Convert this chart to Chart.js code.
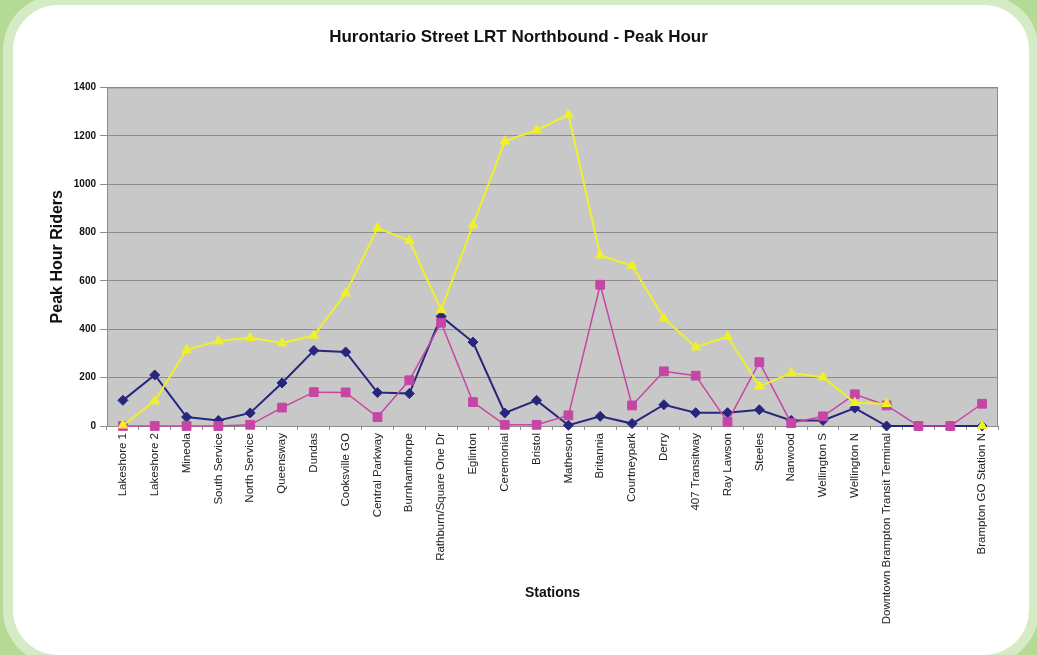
<!DOCTYPE html>
<html lang="en">
<head>
    <meta charset="UTF-8">
    <title>Hurontario Street LRT Northbound - Peak Hour</title>
    <script src="https://cdn.jsdelivr.net/npm/chart.js"></script>
    <style>
        * {
            margin: 0;
            padding: 0;
            box-sizing: border-box;
        }

        body {
            width: 1037px;
            height: 655px;
            overflow: hidden;
            background: #b4da95;
            position: relative;
        }

        /* White card with the pale green ring round it */
        .panel {
            position: absolute;
            left: 13px;
            top: 5px;
            width: 1016px;
            height: 650px;
            background: #ffffff;
            border-radius: 45px;
            box-shadow: 0 0 0 10px #d5ebc5;
        }

        #ridersChart {
            position: absolute;
            left: 0;
            top: 0;
        }
    </style>
</head>
<body>
    <div class="panel"></div>
    <canvas id="ridersChart" width="1037" height="655"></canvas>

    <script>
        // Stations along the line (two unnamed stops before Brampton GO)
        const stations = [
            'Lakeshore 1', 'Lakeshore 2', 'Mineola', 'South Service', 'North Service',
            'Queensway', 'Dundas', 'Cooksville GO', 'Central Parkway', 'Burnhamthorpe',
            'Rathburn/Square One Dr', 'Eglinton', 'Ceremonial', 'Bristol', 'Matheson',
            'Britannia', 'Courtneypark', 'Derry', '407 Transitway', 'Ray Lawson',
            'Steeles', 'Nanwood', 'Wellington S', 'Wellington N',
            'Downtown Brampton Transit Terminal', '', '', 'Brampton GO Station N'
        ];

        // Peak hour riders per station
        const series1 = [106, 211, 37, 23, 54, 178, 312, 306, 138, 134, 453, 347, 54, 106,
                         3, 40, 10, 88, 55, 55, 67, 23, 23, 74, 0, 0, 0, 0];
        const series2 = [0, 0, 0, 0, 5, 76, 140, 139, 37, 189, 427, 99, 5, 5,
                         44, 584, 85, 226, 208, 17, 264, 12, 40, 131, 85, 0, 0, 92];
        const series3 = [3, 103, 315, 351, 365, 343, 374, 549, 818, 767, 480, 831, 1177, 1224,
                         1287, 706, 662, 446, 326, 370, 164, 219, 202, 96, 92, null, null, 0];

        const yTicks = [0, 200, 400, 600, 800, 1000, 1200, 1400];

        const fontFamily = "Arial, 'Liberation Sans', sans-serif";

        // Grey plot area with a thin frame
        const plotBackground = {
            id: 'plotBackground',
            beforeDraw(chart) {
                const { ctx, chartArea: a } = chart;
                ctx.save();
                ctx.fillStyle = '#c8c8c8';
                ctx.fillRect(a.left, a.top, a.right - a.left, a.bottom - a.top);
                ctx.restore();
            },
            beforeDatasetsDraw(chart) {
                const { ctx, chartArea: a } = chart;
                ctx.save();
                ctx.strokeStyle = '#8c8c8c';
                ctx.lineWidth = 1;
                ctx.strokeRect(a.left + 0.5, a.top + 0.5, a.right - a.left - 1, a.bottom - a.top);
                ctx.restore();
            }
        };

        function lineSeries(label, data, color, style, radius, width, order) {
            return {
                label: label,
                data: data,
                borderColor: color,
                backgroundColor: color,
                pointBackgroundColor: color,
                pointBorderColor: color,
                pointStyle: style,
                pointRadius: radius,
                pointBorderWidth: 1,
                borderWidth: width,
                tension: 0,
                fill: false,
                clip: false,
                order: order
            };
        }

        const ctx = document.getElementById('ridersChart').getContext('2d');
        new Chart(ctx, {
            type: 'line',
            data: {
                labels: stations,
                datasets: [
                    lineSeries('Series1', series1, '#26267e', 'rectRot', 5, 2, 3),
                    lineSeries('Series2', series2, '#c646a6', 'rect', 6.2, 1.5, 2),
                    lineSeries('Series3', series3, '#f0f02a', 'triangle', 5.5, 2, 1)
                ]
            },
            options: {
                responsive: false,
                animation: false,
                layout: {
                    padding: 0
                },
                plugins: {
                    legend: { display: false },
                    tooltip: { enabled: false },
                    title: {
                        display: true,
                        text: 'Hurontario Street LRT Northbound - Peak Hour',
                        color: '#111',
                        font: { family: fontFamily, size: 17, weight: 'bold' },
                        padding: { top: 27, bottom: 40 }
                    }
                },
                scales: {
                    x: {
                        offset: true,
                        afterFit(scale) { scale.height = 229; },
                        grid: {
                            offset: true,
                            drawOnChartArea: false,
                            color: '#8c8c8c',
                            tickLength: 4
                        },
                        border: { color: '#8c8c8c' },
                        ticks: {
                            autoSkip: false,
                            minRotation: 90,
                            maxRotation: 90,
                            padding: 3,
                            color: '#222',
                            font: { family: fontFamily, size: 11.5 }
                        },
                        title: {
                            display: true,
                            text: 'Stations',
                            color: '#111',
                            font: { family: fontFamily, size: 14, weight: 'bold' },
                            padding: { top: 0, bottom: 53 }
                        }
                    },
                    y: {
                        min: 0,
                        max: 1400,
                        afterFit(scale) { scale.width = 107; },
                        afterBuildTicks(scale) {
                            scale.ticks = yTicks.map(v => ({ value: v }));
                        },
                        grid: {
                            color: '#8c8c8c',
                            tickLength: 7
                        },
                        border: { color: '#8c8c8c' },
                        ticks: {
                            padding: 4,
                            color: '#111',
                            font: { family: fontFamily, size: 10, weight: 'bold' },
                            callback: value => String(value)
                        },
                        title: {
                            display: true,
                            text: 'Peak Hour Riders',
                            color: '#111',
                            font: { family: fontFamily, size: 16, weight: 'bold' },
                            padding: { top: 48, bottom: 0 }
                        }
                    },
                    // empty strip on the right so the title stays centred on the page
                    yRight: {
                        position: 'right',
                        afterFit(scale) { scale.width = 39; },
                        grid: { display: false },
                        border: { display: false },
                        ticks: { display: false }
                    }
                }
            },
            plugins: [plotBackground]
        });
    </script>
</body>
</html>
